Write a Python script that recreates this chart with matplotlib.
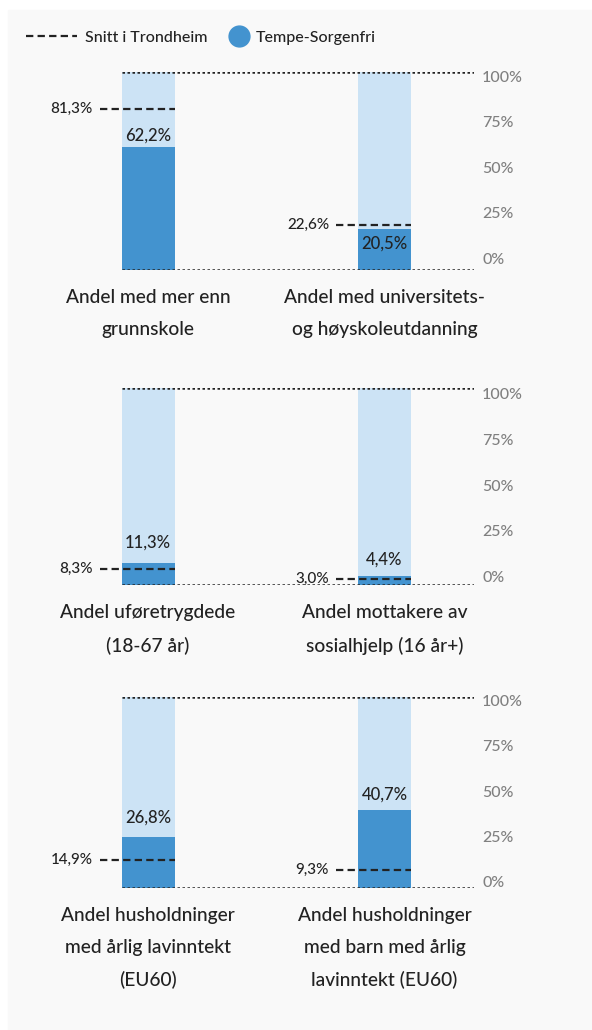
import matplotlib
matplotlib.use("Agg")
import matplotlib.pyplot as plt
from matplotlib.lines import Line2D
from matplotlib.patches import Rectangle

plt.rcParams['font.family'] = ['Lato', 'DejaVu Sans']
plt.rcParams['font.weight'] = 500

# data
categories = [
    ["Andel med mer enn\ngrunnskole", "Andel med universitets-\nog høyskoleutdanning"],
    ["Andel uføretrygdede\n(18-67 år)", "Andel mottakere av\nsosialhjelp (16 år+)"],
    ["Andel husholdninger\nmed årlig lavinntekt\n(EU60)", "Andel husholdninger\nmed barn med årlig\nlavinntekt (EU60)"],
]
tempe = [[62.2, 20.5], [11.3, 4.4], [26.8, 40.7]]
trondheim = [[81.3, 22.6], [8.3, 3.0], [14.9, 9.3]]
tick_vals = [0, 25, 50, 75, 100]
tick_labels = ["0%", "25%", "50%", "75%", "100%"]

def fmt(v):
    return f"{v:.1f}".replace(".", ",") + "%"

# layout (pixels)
W, H = 592, 1030
row_top = [72, 388, 697]
row_bot = [270, 585, 888]
twin_lims = [(-6.4, 102.2), (-4.5, 103.1), (-3.5, 102.0)]
label_off = [[11, -14], [20, 17], [19, 16]]  # px offset of value labels
c0, step = 148, 236.5
bar_w = 53 / step
DARK = "#4393cf"
LIGHT = "#cce3f5"
INK = "#222222"
DASH = (0, (3.3, 1.9))
DOT = (0, (1, 1))

fig = plt.figure(figsize=(W / 100, H / 100), dpi=100)
fig.patches.append(Rectangle((8 / W, 0), 1, 1 - 10 / H, transform=fig.transFigure,
                             color="#f9f9f9", zorder=-10))

x_left, x_right = 0, 474
xlim = ((x_left - c0) / step, (x_right - c0) / step)
px = 0.72  # points per pixel

for r in range(3):
    ax = fig.add_axes([x_left / W, 1 - row_bot[r] / H, (x_right - x_left) / W,
                       (row_bot[r] - row_top[r]) / H])
    ax.set_xlim(*xlim)
    ax.set_ylim(0, 100)
    ax.axis("off")
    xs = [0, 1]
    ax.bar(xs, [100, 100], width=bar_w, color=LIGHT, zorder=1)
    ax.bar(xs, tempe[r], width=bar_w, color=DARK, zorder=2)
    ax.hlines([0, 100], -bar_w / 2, xlim[1], colors=INK, linestyles=DOT,
              lw=1.8, zorder=4)
    for i in xs:
        tv = trondheim[r][i]
        x0 = i - bar_w / 2 - 22 / step
        ax.hlines(tv, x0, i + bar_w / 2, colors=INK, linestyles=DASH,
                  lw=1.6, zorder=5)
        ax.annotate(fmt(tv), (x0, tv), xytext=(-7 * px, 0), textcoords="offset points",
                    ha="right", va="center", fontsize=11, color=INK)
        ax.annotate(fmt(tempe[r][i]), (i, tempe[r][i]), xytext=(0, label_off[r][i] * px),
                    textcoords="offset points", ha="center", va="center",
                    fontsize=12, color=INK, zorder=6)
        ax.annotate(categories[r][i], (i, 0), xytext=(0, -19 * px), textcoords="offset points",
                    ha="center", va="top", fontsize=13.8, color=INK, linespacing=2.05)
    tw = ax.twinx()
    tw.set_ylim(*twin_lims[r])
    tw.set_yticks(tick_vals)
    tw.set_yticklabels(tick_labels)
    tw.tick_params(axis="y", length=0, pad=8 * px, labelsize=11.5, labelcolor="#808080")
    for s in tw.spines.values():
        s.set_visible(False)
    tw.set_xticks([])

fig.legend([Line2D([], [], color=INK, ls=DASH, lw=1.6)], ["Snitt i Trondheim"],
           loc="center left", bbox_to_anchor=(12 / W, 1 - 38 / H), frameon=False,
           fontsize=11.5, handlelength=3.2, handletextpad=0.5, labelcolor=INK)
fig.legend([Line2D([], [], color=DARK, marker="o", ls="none", markersize=15)],
           ["Tempe-Sorgenfri"], loc="center left", bbox_to_anchor=(217 / W, 1 - 38 / H),
           frameon=False, fontsize=11.5, handlelength=1.0, handletextpad=0.5,
           labelcolor=INK)

fig.savefig("out.png", dpi=100)
